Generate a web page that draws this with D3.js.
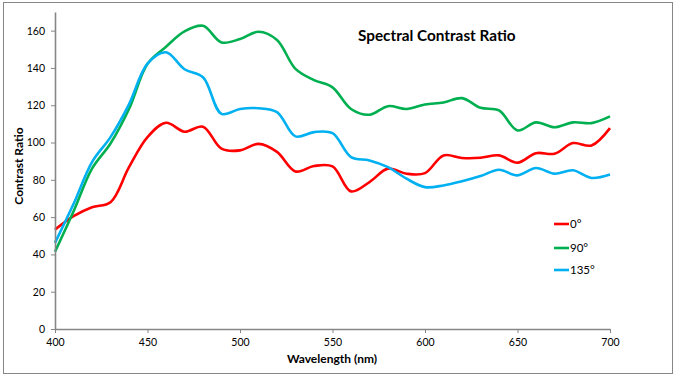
<!DOCTYPE html>
<html><head><meta charset="utf-8">
<script src="https://cdn.jsdelivr.net/npm/d3@7/dist/d3.min.js"></script>
<style>body{margin:0;background:#fff}svg{display:block}text{font-family:Lato,"Open Sans",sans-serif}</style>
</head><body>
<script>
const wavelengths = [400,410,420,430,440,450,460,470,480,490,500,510,520,530,540,550,560,570,580,590,600,610,620,630,640,650,660,670,680,690,700];
const deg0   = [53.3,60.5,65.3,68,86.8,102.9,110.6,105.8,108.5,96.7,95.8,99.3,95,84.5,87.4,87.2,73.8,78.8,86,83.3,83.6,93.1,91.7,91.8,93.1,89.2,94.3,94,99.7,98.4,107.7];
const deg90  = [41.4,63,86,99.5,118,142.2,151.4,159.6,162.6,153.7,155.5,159.4,155,139.5,133.5,129.6,118,114.9,119.5,118,120.4,121.5,123.8,118.6,117.2,106.5,110.8,108.2,110.8,110.4,114];
const deg135 = [46.2,67,89.5,102.9,120.5,142.3,148.4,139.3,135,115.4,118,118.4,116.3,103.3,105.6,105,92.2,90.4,86.8,80.6,76.1,77,79.2,82,85.4,82.4,86.3,83.3,85.1,81,82.8];
const seriesNames = ["0°","90°","135°"];
const seriesColors = ["#FF0000","#00B050","#00B0F0"];
const xTicks = [400,450,500,550,600,650,700];
const yTicks = [0,20,40,60,80,100,120,140,160];

const W=679,H=381;
const svg=d3.select("body").append("svg").attr("width",W).attr("height",H);
svg.append("rect").attr("x",3.5).attr("y",2.5).attr("width",669).attr("height",371).attr("fill","#fff").attr("stroke","#868686").attr("stroke-width",1);

const x=d3.scaleLinear().domain([400,700]).range([55,610]);
const y=d3.scaleLinear().domain([0,170]).range([329,12]);

const series=[deg0,deg90,deg135];
const line=d3.line().x((d,i)=>x(wavelengths[i])).y(d=>y(d)).curve(d3.curveCatmullRom.alpha(0.5));
series.forEach((s,k)=>{
  svg.append("path").datum(s).attr("d",line).attr("fill","none").attr("stroke",seriesColors[k]).attr("stroke-width",2.6).attr("stroke-linejoin","round");
});

const xa=svg.append("g").attr("transform","translate(0,329)").call(d3.axisBottom(x).tickValues(xTicks).tickSize(4).tickSizeOuter(0).tickPadding(6));
const ya=svg.append("g").attr("transform","translate(55,0)").call(d3.axisLeft(y).tickValues(yTicks).tickSize(4).tickSizeOuter(0).tickPadding(6));
[xa,ya].forEach(a=>{
  a.select(".domain").attr("stroke","#868686").attr("stroke-width",1.6);
  a.selectAll(".tick line").attr("stroke","#868686");
  a.selectAll("text").attr("font-family","Lato, sans-serif").attr("font-size",10.5).attr("fill","#000");
});

svg.append("text").attr("x",358).attr("y",41).attr("font-size",15.3).attr("font-weight","bold").text("Spectral Contrast Ratio");
svg.append("text").attr("x",332).attr("y",363).attr("text-anchor","middle").attr("font-size",12).attr("font-weight","bold").text("Wavelength (nm)");
svg.append("text").attr("transform","translate(23,166) rotate(-90)").attr("text-anchor","middle").attr("font-size",12).attr("font-weight","bold").text("Contrast Ratio");

const legY=[224,248,270];
seriesNames.forEach((n,k)=>{
  svg.append("line").attr("x1",554).attr("x2",569).attr("y1",legY[k]).attr("y2",legY[k]).attr("stroke",seriesColors[k]).attr("stroke-width",2.6);
  svg.append("text").attr("x",570).attr("y",legY[k]+4).attr("font-size",11.5).text(n);
});
</script>
</body></html>
